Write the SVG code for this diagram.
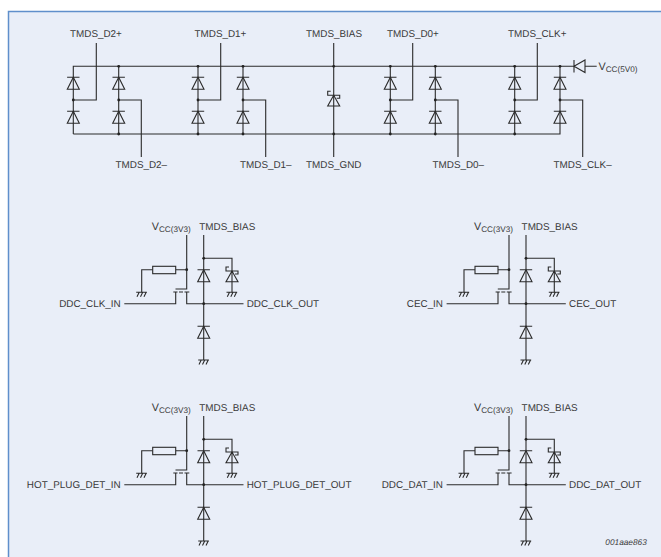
<svg xmlns="http://www.w3.org/2000/svg" width="661" height="557" viewBox="0 0 661 557">
<style>
text{font-family:"Liberation Sans",Arial,sans-serif;font-size:9.9px;fill:#3a3a3a;text-rendering:geometricPrecision}
.v{font-size:10.8px}
.s{font-size:8.2px}
.w{fill:none;stroke:#2b2b2b;stroke-width:1.1}
.e{fill:none;stroke:#2b2b2b;stroke-width:1.1}
.r{fill:#e9eef8;stroke:#2b2b2b;stroke-width:1.1}
.d{fill:#222;stroke:none}
</style>
<defs>
<g id="diode" class="e"><path d="M-6.2 0H6.2M0 0L-6 12H6Z"/></g>
<g id="zener" class="e"><path d="M-3 -4H-6V0H6V3H3M0 0L-6 10.7H6Z"/></g>
<g id="gnd" class="e"><path d="M-5.5 0H5.2M-2.5 0L-4.7 4.4M1 0L-1.2 4.4M4.5 0L2.3 4.4"/></g>
<circle id="dot" class="d" r="1.4"/>
<g id="subwires" class="w">
<path d="M186.7 235V289H175.5"/>
<path d="M203.7 235V360"/>
<path d="M203.7 258.3H232V292.3"/>
<path d="M186.7 269.7H175.7M152.7 269.7H141.7V292.3"/>
<path d="M124.3 303.7H175.7V292M186.7 292V303.7H243.5"/>
<path d="M173.3 292H177.5M179 292H183M184.5 292H189.3"/>
</g>
<g id="subparts">
<rect class="r" x="152.7" y="266.3" width="23" height="7.4"/>
<use href="#diode" x="203.7" y="269.7"/>
<use href="#zener" x="232" y="271"/>
<use href="#diode" x="203.7" y="326.3"/>
<use href="#gnd" x="141.7" y="292.3"/>
<use href="#gnd" x="232" y="292.3"/>
<use href="#gnd" x="203.7" y="360"/>
<use href="#dot" x="186.7" y="269.7"/>
<use href="#dot" x="203.7" y="258.3"/>
<use href="#dot" x="203.7" y="303.7"/>
</g>
</defs>
<rect id="frame" x="8.5" y="11.5" width="653" height="546" fill="#e9eef8" stroke="none"/>
<path id="frame-edge" d="M8.5 557V11.5H661" fill="none" stroke="#5f8fcb" stroke-width="1.5"/>

<g id="connectors">
<g class="w">
<path d="M73.3 134V66.3H574M585 66.3H596.7"/>
<path d="M73.3 134H560V66.3"/>
<path d="M118.7 66.3V134M198 66.3V134M243 66.3V134M390.3 66.3V134M435.3 66.3V134M514.7 66.3V134"/>
<path d="M333.7 43V157"/>
<path d="M96.3 43V100H73.3M220.7 43V100H198M412.7 43V100H390.3M537.3 43V100H514.7"/>
<path d="M118.7 100H141.3V157M243 100H265.7V157M435.3 100H458V157M560 100H582.7V157"/>
</g>
<use href="#subwires"/>
<use href="#subwires" x="322.3"/>
<use href="#subwires" y="181"/>
<use href="#subwires" x="322.3" y="181"/>
</g>

<g id="bridge-diodes">
<use href="#diode" x="73.3" y="77.3"/><use href="#diode" x="73.3" y="111.3"/>
<use href="#diode" x="118.7" y="77.3"/><use href="#diode" x="118.7" y="111.3"/>
<use href="#diode" x="198" y="77.3"/><use href="#diode" x="198" y="111.3"/>
<use href="#diode" x="243" y="77.3"/><use href="#diode" x="243" y="111.3"/>
<use href="#zener" x="333.7" y="95.3"/>
<use href="#diode" x="390.3" y="77.3"/><use href="#diode" x="390.3" y="111.3"/>
<use href="#diode" x="435.3" y="77.3"/><use href="#diode" x="435.3" y="111.3"/>
<use href="#diode" x="514.7" y="77.3"/><use href="#diode" x="514.7" y="111.3"/>
<use href="#diode" x="560" y="77.3"/><use href="#diode" x="560" y="111.3"/>
<path class="e" d="M574 60V72.5M574 66.3L585 60V72.5Z"/>
</g>
<g id="bridge-junctions">
<use href="#dot" x="118.7" y="66.3"/><use href="#dot" x="198" y="66.3"/><use href="#dot" x="243" y="66.3"/><use href="#dot" x="333.7" y="66.3"/><use href="#dot" x="390.3" y="66.3"/><use href="#dot" x="435.3" y="66.3"/><use href="#dot" x="514.7" y="66.3"/><use href="#dot" x="560" y="66.3"/>
<use href="#dot" x="73.3" y="100"/><use href="#dot" x="118.7" y="100"/><use href="#dot" x="198" y="100"/><use href="#dot" x="243" y="100"/><use href="#dot" x="390.3" y="100"/><use href="#dot" x="435.3" y="100"/><use href="#dot" x="514.7" y="100"/><use href="#dot" x="560" y="100"/>
<use href="#dot" x="118.7" y="134"/><use href="#dot" x="198" y="134"/><use href="#dot" x="243" y="134"/><use href="#dot" x="333.7" y="134"/><use href="#dot" x="390.3" y="134"/><use href="#dot" x="435.3" y="134"/><use href="#dot" x="514.7" y="134"/>
</g>
<g id="bridge-labels">
<text x="70" y="37.2">TMDS_D2+</text>
<text x="194.5" y="37.2">TMDS_D1+</text>
<text x="306" y="37.2">TMDS_BIAS</text>
<text x="387" y="37.2">TMDS_D0+</text>
<text x="508" y="37.2">TMDS_CLK+</text>
<text x="115.5" y="167.7">TMDS_D2–</text>
<text x="240" y="167.7">TMDS_D1–</text>
<text x="306" y="167.7">TMDS_GND</text>
<text x="432.5" y="167.7">TMDS_D0–</text>
<text x="553.5" y="167.7">TMDS_CLK–</text>
<text x="598.5" y="69.7"><tspan class="v">V</tspan><tspan class="s" dy="2.5">CC(5V0)</tspan></text>
</g>

<g id="ddc-clk">
<use href="#subparts"/>
<text x="151.7" y="229.5"><tspan class="v">V</tspan><tspan class="s" dy="2.7">CC(3V3)</tspan></text>
<text x="199.3" y="230.3">TMDS_BIAS</text>
<text x="120.7" y="306.7" text-anchor="end">DDC_CLK_IN</text>
<text x="246.7" y="306.7">DDC_CLK_OUT</text>
</g>
<g id="cec">
<use href="#subparts" x="322.3"/>
<text x="474" y="229.5"><tspan class="v">V</tspan><tspan class="s" dy="2.7">CC(3V3)</tspan></text>
<text x="521.6" y="230.3">TMDS_BIAS</text>
<text x="443" y="306.7" text-anchor="end">CEC_IN</text>
<text x="569" y="306.7">CEC_OUT</text>
</g>
<g id="hot-plug">
<use href="#subparts" y="181"/>
<text x="151.7" y="410.5"><tspan class="v">V</tspan><tspan class="s" dy="2.7">CC(3V3)</tspan></text>
<text x="199.3" y="411.3">TMDS_BIAS</text>
<text x="120.7" y="487.7" text-anchor="end">HOT_PLUG_DET_IN</text>
<text x="246.7" y="487.7">HOT_PLUG_DET_OUT</text>
</g>
<g id="ddc-dat">
<use href="#subparts" x="322.3" y="181"/>
<text x="474" y="410.5"><tspan class="v">V</tspan><tspan class="s" dy="2.7">CC(3V3)</tspan></text>
<text x="521.6" y="411.3">TMDS_BIAS</text>
<text x="443" y="487.7" text-anchor="end">DDC_DAT_IN</text>
<text x="569" y="487.7">DDC_DAT_OUT</text>
</g>
<text id="code" x="605.3" y="545.3" style="font-size:8.3px;font-style:italic">001aae863</text>
</svg>
